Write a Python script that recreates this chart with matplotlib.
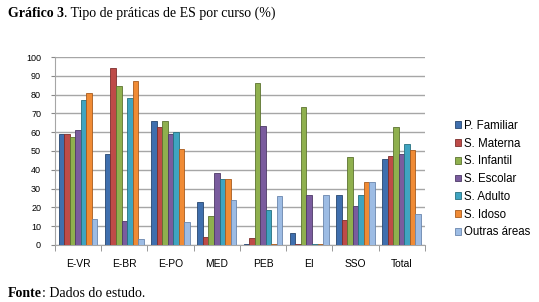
import numpy as np
import matplotlib
matplotlib.use('Agg')
import matplotlib.pyplot as plt

cursos = ['E-VR', 'E-BR', 'E-PO', 'MED', 'PEB', 'EI', 'SSO', 'Total']
series = ['P. Familiar', 'S. Materna', 'S. Infantil', 'S. Escolar', 'S. Adulto', 'S. Idoso', 'Outras áreas']

p_familiar = [59, 48.5, 66, 23, 0.5, 6.5, 26.7, 46]
s_materna = [59, 94, 63, 4, 3.7, 0.5, 13.4, 47.5]
s_infantil = [57.4, 84.5, 66, 15.5, 86, 73.5, 47, 63]
s_escolar = [61, 13, 59, 38.5, 63.5, 26.7, 20.5, 48.5]
s_adulto = [77, 78, 60, 35, 18.5, 0.5, 26.7, 53.5]
s_idoso = [81, 87.5, 51, 35, 0.5, 0.5, 33.3, 50.3]
outras = [13.7, 3.2, 12.3, 24, 26, 26.7, 33.3, 16.5]

valores = [p_familiar, s_materna, s_infantil, s_escolar, s_adulto, s_idoso, outras]
cores = ['#3F6FAE', '#BE4B48', '#8FB04E', '#7A5C9E', '#3FA4C1', '#F08B35', '#9DBCE4']
bordas = ['#27466F', '#7D2E2C', '#5C7330', '#4E3A67', '#26707F', '#A85B1D', '#6A86AE']

fig = plt.figure(figsize=(5.39, 3.02), dpi=100)
ax = fig.add_axes([0.102, 0.189, 0.686, 0.622])

n = len(series)
x = np.arange(len(cursos))
w = 0.12
for i in range(n):
    pos = x - (n - 1) / 2 * w + i * w
    ax.bar(pos, valores[i], width=w, color=cores[i], edgecolor=bordas[i],
           linewidth=0.6, label=series[i], zorder=3)

ax.set_xlim(-0.5, len(cursos) - 0.5)
ax.set_ylim(0, 100)
ax.set_yticks(range(0, 101, 10))
ax.tick_params(axis='y', labelsize=6.5, length=3, color='#888888', pad=7)
ax.set_xticks(x)
ax.set_xticklabels(cursos, fontsize=7.4)
ax.set_xticks(np.arange(-0.5, len(cursos)), minor=True)
ax.tick_params(axis='x', which='major', length=0, pad=10)
ax.tick_params(axis='x', which='minor', length=4, color='#888888')
ax.grid(axis='y', color='#A6A6A6', linewidth=1.0, zorder=0)
for s in ['top', 'right']:
    ax.spines[s].set_visible(False)
ax.spines['left'].set_color('#A6A6A6')
ax.spines['bottom'].set_color('#A6A6A6')
for lab in ax.get_xticklabels() + ax.get_yticklabels():
    lab.set_family('Liberation Sans')

leg = fig.legend(loc='center left', bbox_to_anchor=(0.835, 0.407), frameon=False,
                 prop={'family': 'Liberation Sans', 'size': 8.3},
                 handlelength=0.55, handleheight=0.55, handletextpad=0.25,
                 labelspacing=0.5, borderaxespad=0)

t1 = fig.text(8 / 539, 1 - 17 / 302, 'Gráfico 3', family='Liberation Serif',
              fontsize=10, fontweight='bold', va='baseline')
ax.annotate('. Tipo de práticas de ES por curso (%)', xy=(1, 0), xycoords=t1,
            va='bottom', ha='left', family='Liberation Serif', fontsize=10,
            annotation_clip=False)
t2 = fig.text(8 / 539, 1 - 297 / 302, 'Fonte', family='Liberation Serif',
              fontsize=10, fontweight='bold', va='baseline')
ax.annotate(': Dados do estudo.', xy=(1, 0), xycoords=t2, va='bottom', ha='left',
            family='Liberation Serif', fontsize=10, annotation_clip=False)

fig.savefig('out.png', dpi=100)
